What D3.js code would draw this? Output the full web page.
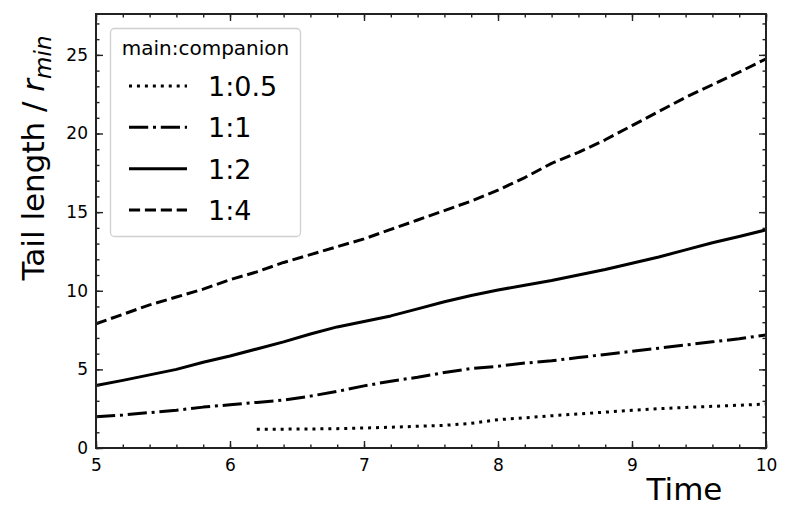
<!DOCTYPE html>
<html>
<head>
<meta charset="utf-8">
<script src="https://cdn.jsdelivr.net/npm/d3@7"></script>
<style>
  html, body { margin: 0; padding: 0; background: #fff; }
  svg { display: block; font-family: "DejaVu Sans", sans-serif; }
</style>
</head>
<body>
<svg id="chart" width="812" height="522"></svg>
<script>
// ---- data ----
const seriesNames = ["1:0.5", "1:1", "1:2", "1:4"];
const time = [5.0,5.2,5.4,5.6,5.8,6.0,6.2,6.4,6.6,6.8,7.0,7.2,7.4,7.6,7.8,8.0,8.2,8.4,8.6,8.8,9.0,9.2,9.4,9.6,9.8,10.0];
const timeHalf = [6.2,6.4,6.6,6.8,7.0,7.2,7.4,7.6,7.8,8.0,8.2,8.4,8.6,8.8,9.0,9.2,9.4,9.6,9.8,10.0];
const tailHalf = [1.2,1.2,1.21,1.23,1.27,1.32,1.38,1.44,1.57,1.8,1.92,2.05,2.17,2.28,2.4,2.5,2.58,2.65,2.72,2.8];
const tailOne  = [1.99,2.1,2.25,2.4,2.6,2.75,2.9,3.05,3.3,3.6,3.95,4.25,4.5,4.8,5.05,5.2,5.4,5.55,5.75,5.95,6.15,6.35,6.55,6.75,6.95,7.19];
const tailTwo  = [3.97,4.3,4.65,5.0,5.45,5.85,6.3,6.75,7.25,7.7,8.05,8.4,8.85,9.3,9.7,10.05,10.35,10.65,11.0,11.35,11.75,12.15,12.6,13.05,13.45,13.87];
const tailFour = [7.9,8.5,9.1,9.6,10.1,10.7,11.2,11.8,12.3,12.8,13.3,13.9,14.5,15.1,15.7,16.4,17.2,18.1,18.8,19.6,20.5,21.4,22.3,23.1,23.9,24.75];
const xTicks = [5,6,7,8,9,10];
const yTicks = [0,5,10,15,20,25];
const xDomain = [5, 10];
const yDomain = [0, 27.6];
const legendTitle = "main:companion";

// ---- styles ----
const lw = 3;
const dashes = {
  "1:0.5": `${lw*1.0},${lw*1.65}`,
  "1:1": `${lw*6.4},${lw*1.6},${lw*1.0},${lw*1.6}`,
  "1:2": null,
  "1:4": `${lw*3.7},${lw*1.6}`
};
const series = [
  {name: "1:0.5", t: timeHalf, v: tailHalf},
  {name: "1:1", t: time, v: tailOne},
  {name: "1:2", t: time, v: tailTwo},
  {name: "1:4", t: time, v: tailFour}
];

const svg = d3.select("#chart");
const L = 96, R = 766, T = 14, B = 448;
const x = d3.scaleLinear().domain(xDomain).range([L, R]);
const y = d3.scaleLinear().domain(yDomain).range([B, T]);

const line = d3.line().x(d => x(d[0])).y(d => y(d[1]));

// lines
const gLines = svg.append("g");
series.forEach(s => {
  const pts = s.t.map((t, i) => [t, s.v[i]]);
  gLines.append("path")
    .attr("d", line(pts))
    .attr("fill", "none")
    .attr("stroke", "#000")
    .attr("stroke-width", lw)
    .attr("stroke-dasharray", dashes[s.name])
    .attr("stroke-linecap", "butt")
    .attr("stroke-linejoin", "round");
});

// axes
const xMinor = d3.range(5, 10.0001, 0.2).map(v => +v.toFixed(2));
const yMinor = d3.range(0, 27.6, 1);
const tickColor = "#222";
function styleAxis(g) {
  g.select(".domain").remove();
  g.selectAll(".tick line").attr("stroke", tickColor).attr("stroke-width", 1.4);
  g.selectAll(".tick text").attr("fill", "#000").style("font-size", "17px").style("font-family", "DejaVu Sans");
}
// bottom
svg.append("g").attr("transform", `translate(0,${B})`)
  .call(d3.axisBottom(x).tickValues(xMinor).tickSize(-3.5).tickFormat("")).call(styleAxis);
svg.append("g").attr("transform", `translate(0,${B})`)
  .call(d3.axisBottom(x).tickValues(xTicks).tickSize(-7).tickPadding(11).tickFormat(d3.format("d"))).call(styleAxis);
// top
svg.append("g").attr("transform", `translate(0,${T})`)
  .call(d3.axisTop(x).tickValues(xMinor).tickSize(-3.5).tickFormat("")).call(styleAxis);
svg.append("g").attr("transform", `translate(0,${T})`)
  .call(d3.axisTop(x).tickValues(xTicks).tickSize(-7).tickFormat("")).call(styleAxis);
// left
svg.append("g").attr("transform", `translate(${L},0)`)
  .call(d3.axisLeft(y).tickValues(yMinor).tickSize(-3.5).tickFormat("")).call(styleAxis);
svg.append("g").attr("transform", `translate(${L},0)`)
  .call(d3.axisLeft(y).tickValues(yTicks).tickSize(-7).tickPadding(8).tickFormat(d3.format("d"))).call(styleAxis);
// right
svg.append("g").attr("transform", `translate(${R},0)`)
  .call(d3.axisRight(y).tickValues(yMinor).tickSize(-3.5).tickFormat("")).call(styleAxis);
svg.append("g").attr("transform", `translate(${R},0)`)
  .call(d3.axisRight(y).tickValues(yTicks).tickSize(-7).tickFormat("")).call(styleAxis);

// frame
svg.append("rect")
  .attr("x", L).attr("y", T).attr("width", R - L).attr("height", B - T)
  .attr("fill", "none").attr("stroke", tickColor).attr("stroke-width", 2);

// axis labels
svg.append("text")
  .attr("x", 684.5).attr("y", 500)
  .attr("text-anchor", "middle")
  .style("font-size", "31px")
  .text("Time");

const yl = svg.append("text")
  .attr("transform", "translate(44,158) rotate(-90)")
  .attr("text-anchor", "middle")
  .style("font-size", "31px");
yl.append("tspan").text("Tail length / ");
yl.append("tspan").style("font-style", "italic").text("r");
yl.append("tspan").style("font-style", "italic").style("font-size", "23px").attr("dy", "7").text("min");

// legend
const lg = svg.append("g");
lg.append("rect")
  .attr("x", 110.5).attr("y", 28.5).attr("width", 190).attr("height", 208)
  .attr("rx", 4).attr("ry", 4)
  .attr("fill", "#fff").attr("fill-opacity", 0.8)
  .attr("stroke", "#d0d0d0").attr("stroke-width", 1.3);
lg.append("text")
  .attr("x", 205.5).attr("y", 55)
  .attr("text-anchor", "middle")
  .style("font-size", "20px")
  .text(legendTitle);
const rowY = d3.scalePoint().domain(seriesNames).range([86, 210]);
seriesNames.forEach(n => {
  const cy = rowY(n);
  lg.append("line")
    .attr("x1", 129).attr("x2", 187).attr("y1", cy).attr("y2", cy)
    .attr("stroke", "#000").attr("stroke-width", lw)
    .attr("stroke-dasharray", dashes[n]);
  lg.append("text")
    .attr("x", 208).attr("y", cy + 10)
    .style("font-size", "27px")
    .text(n);
});
</script>
</body>
</html>
